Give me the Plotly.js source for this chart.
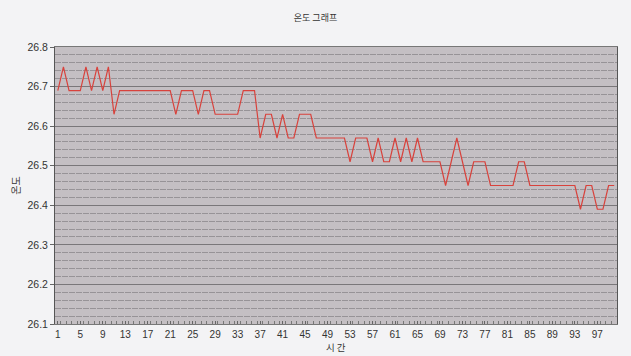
<!DOCTYPE html>
<html>
<head>
<meta charset="utf-8">
<script src="https://cdn.plot.ly/plotly-3.0.1.min.js"></script>
<style>
html,body{margin:0;padding:0;background:#f3f3f5;}
#chart{width:631px;height:356px;}
</style>
</head>
<body>
<div id="chart"></div>
<script>
// time index 1..100
const timeIdx = Array.from({length: 100}, (_, i) => i + 1);
// temperature readings (°C)
const temperature = [
  26.69, 26.75, 26.69, 26.69, 26.69, 26.75, 26.69, 26.75, 26.69, 26.75,
  26.63, 26.69, 26.69, 26.69, 26.69, 26.69, 26.69, 26.69, 26.69, 26.69,
  26.69, 26.63, 26.69, 26.69, 26.69, 26.63, 26.69, 26.69, 26.63, 26.63,
  26.63, 26.63, 26.63, 26.69, 26.69, 26.69, 26.57, 26.63, 26.63, 26.57,
  26.63, 26.57, 26.57, 26.63, 26.63, 26.63, 26.57, 26.57, 26.57, 26.57,
  26.57, 26.57, 26.51, 26.57, 26.57, 26.57, 26.51, 26.57, 26.51, 26.51,
  26.57, 26.51, 26.57, 26.51, 26.57, 26.51, 26.51, 26.51, 26.51, 26.45,
  26.51, 26.57, 26.51, 26.45, 26.51, 26.51, 26.51, 26.45, 26.45, 26.45,
  26.45, 26.45, 26.51, 26.51, 26.45, 26.45, 26.45, 26.45, 26.45, 26.45,
  26.45, 26.45, 26.45, 26.39, 26.45, 26.45, 26.39, 26.39, 26.45, 26.45
];
const xTickVals = [1, 5, 9, 13, 17, 21, 25, 29, 33, 37, 41, 45, 49, 53, 57, 61, 65, 69, 73, 77, 81, 85, 89, 93, 97];
const xTickText = ['1','5','9','13','17','21','25','29','33','37','41','45','49','53','57','61','65','69','73','77','81','85','89','93','97'];
const yTickVals = [26.1, 26.2, 26.3, 26.4, 26.5, 26.6, 26.7, 26.8];
const yTickText = ['26.1','26.2','26.3','26.4','26.5','26.6','26.7','26.8'];

const trace = {
  x: timeIdx,
  y: temperature,
  type: 'scatter',
  mode: 'lines',
  line: {color: '#d8423c', width: 1.2},
  hoverinfo: 'x+y'
};

const layout = {
  width: 631, height: 356,
  margin: {l: 55, r: 14, t: 47, b: 32},
  paper_bgcolor: '#f3f3f5',
  plot_bgcolor: '#c4bfc3',
  font: {family: 'Liberation Sans, Arial, Noto Sans CJK KR', size: 10.5, color: '#333'},
  title: {text: '온도 그래프', font: {family: 'Noto Sans CJK KR', size: 9, color: '#333'}, x: 0.5, xanchor: 'center', y: 0.95, yanchor: 'middle'},
  showlegend: false,
  xaxis: {
    range: [0.5, 100.5],
    tickmode: 'array', tickvals: xTickVals, ticktext: xTickText,
    ticks: 'inside', ticklen: 3, tickcolor: '#666',
    showgrid: false, zeroline: false,
    showline: true, linecolor: '#777', linewidth: 1, mirror: true,
    minor: {tickmode: 'linear', tick0: 0.5, dtick: 1, ticks: 'inside', ticklen: 3, tickcolor: '#777', showgrid: false},
    tickfont: {size: 10, color: '#333'},
    ticklabelstandoff: 1,
    title: {text: '', font: {size: 1}}
  },
  yaxis: {
    range: [26.1, 26.8],
    tickmode: 'array', tickvals: yTickVals, ticktext: yTickText,
    ticks: 'outside', ticklen: 4, tickcolor: '#666',
    showgrid: true, gridcolor: '#7a777a', gridwidth: 1,
    zeroline: false,
    showline: true, linecolor: '#555', linewidth: 1, mirror: true,
    minor: {dtick: 0.02, tick0: 26.1, showgrid: true, gridcolor: '#979397', gridwidth: 1, griddash: '6px,1px', ticks: ''},
    tickfont: {size: 10.5, color: '#333'},
    title: {text: '온도', font: {family: 'Noto Sans CJK KR', size: 10, color: '#333'}, standoff: 4}
  },
  annotations: [{
    text: '시 간', xref: 'paper', yref: 'paper', x: 0.5, y: 0, xanchor: 'center', yanchor: 'bottom',
    yshift: -31, borderpad: 0, showarrow: false, font: {family: 'Noto Sans CJK KR', size: 9.5, color: '#333'}
  }]
};

Plotly.newPlot('chart', [trace], layout, {displayModeBar: false, staticPlot: true});
</script>
</body>
</html>
